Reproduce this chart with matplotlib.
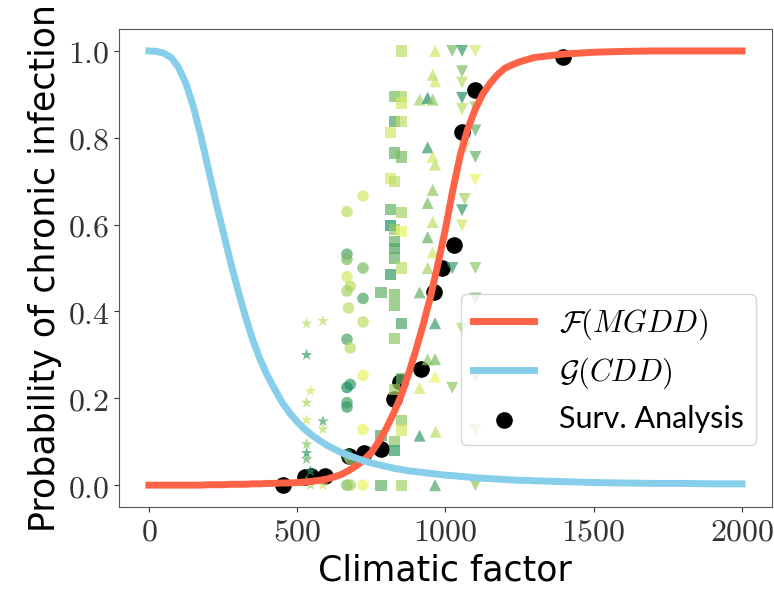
import numpy as np
import matplotlib
matplotlib.use("Agg")
import matplotlib.pyplot as plt

plt.rcParams['mathtext.fontset'] = 'cm'

# fitted curves, every 25 units (coarser in the flat tail)
curve_x = list(range(0, 1301, 25)) + [1400, 1500, 1600, 1700, 1800, 1900, 2000]
mgdd_y = [0.0, 0.0, 0.0, 0.0, 0.0, 0.0, 0.0, 0.0,
          0.001, 0.001, 0.001, 0.002, 0.002, 0.002, 0.003, 0.003, 0.004, 0.004,
          0.005, 0.005, 0.006, 0.007, 0.009, 0.011, 0.014, 0.019, 0.025, 0.034,
          0.045, 0.058, 0.075, 0.10, 0.13, 0.165, 0.205, 0.255, 0.31, 0.37,
          0.435, 0.51, 0.59, 0.68, 0.76, 0.82, 0.865, 0.90, 0.925, 0.945,
          0.96, 0.968, 0.975, 0.98, 0.985,
          0.993, 0.997, 0.999, 1.0, 1.0, 1.0, 1.0]
cdd_y = [1.0, 0.999, 0.995, 0.985, 0.962, 0.925, 0.872, 0.805, 0.73, 0.655,
         0.585, 0.515, 0.45, 0.39, 0.335, 0.29, 0.252, 0.22, 0.19, 0.166,
         0.146, 0.129, 0.115, 0.103, 0.092, 0.083, 0.075, 0.068, 0.062, 0.056,
         0.051, 0.047, 0.043, 0.039, 0.036, 0.033, 0.031, 0.029, 0.027, 0.025,
         0.023, 0.022, 0.020, 0.019, 0.017, 0.016, 0.015, 0.014, 0.013, 0.012,
         0.011, 0.011, 0.010,
         0.008, 0.006, 0.005, 0.004, 0.004, 0.003, 0.003]

# survival analysis estimates
surv_x = [452, 526, 548, 593, 676, 725, 783, 828, 846, 919, 961, 990, 1028, 1056, 1101, 1396]
surv_y = [0.0, 0.018, 0.022, 0.022, 0.066, 0.075, 0.083, 0.198, 0.237, 0.268, 0.444, 0.501,
          0.552, 0.813, 0.909, 0.987]

# individual observations, grouped by marker; c = colour level (0 yellow .. 1 green)
star_x = [532, 587, 532, 545, 532, 532, 587, 587, 532, 532, 532, 545, 532, 545, 587]
star_y = [0.372, 0.378, 0.30, 0.217, 0.19, 0.15, 0.147, 0.129, 0.094, 0.074, 0.06, 0.032, 0.01, 0.0, 0.0]
star_c = [0.2, 0.2, 0.8, 0.1, 0.3, 0.1, 0.7, 0.2, 0.4, 0.8, 0.6, 0.9, 0.5, 0.3, 0.1]

circ_x = [722, 668, 668, 668, 722, 668, 679, 668, 722, 673, 722, 668, 679, 722, 679, 668,
          668, 668, 722, 668, 679, 668, 679, 722]
circ_y = [0.666, 0.63, 0.532, 0.52, 0.50, 0.48, 0.458, 0.447, 0.43, 0.408, 0.376, 0.336, 0.316,
          0.253, 0.232, 0.225, 0.19, 0.18, 0.128, 0.07, 0.06, 0.0, 0.0, 0.0]
circ_c = [0.1, 0.2, 0.7, 0.5, 0.5, 0.1, 0.2, 0.3, 0.7, 0.2, 0.2, 0.7, 0.2, 0.0, 0.8, 0.9,
          0.7, 0.8, 0.0, 0.8, 0.3, 0.5, 0.3, 0.0]

sq_x = [853, 829, 853, 816, 829, 853, 853, 829, 853, 816, 829, 816, 853, 816, 829, 853,
        829, 829, 829, 853, 816, 783, 829, 829, 853, 829, 853, 829, 853, 853, 783, 829,
        829, 783, 853]
sq_y = [1.0, 0.837, 0.837, 0.813, 0.896, 0.896, 0.88, 0.765, 0.756, 0.707, 0.699, 0.634, 0.628,
        0.598, 0.589, 0.584, 0.562, 0.545, 0.523, 0.50, 0.485, 0.444, 0.439, 0.413, 0.373, 0.338,
        0.246, 0.22, 0.149, 0.127, 0.114, 0.10, 0.079, 0.0, 0.0]
sq_c = [0.2, 0.7, 0.2, 0.1, 0.5, 0.3, 0.1, 0.6, 0.5, 0.1, 0.2, 0.6, 0.3, 0.9, 0.4, 0.0,
        0.6, 0.7, 0.6, 0.2, 0.8, 0.6, 0.5, 0.5, 0.7, 0.4, 0.6, 0.3, 0.4, 0.1, 0.7, 0.4,
        0.8, 0.6, 0.3]

tu_x = [965, 913, 965, 967, 965, 913, 940, 965, 965, 913, 940, 957, 940, 957, 940, 957,
        965, 940, 957, 913, 940, 957, 965, 957]
tu_y = [1.0, 0.114, 0.0, 0.123, 0.25, 0.224, 0.29, 0.29, 0.373, 0.444, 0.50, 0.536, 0.571,
        0.606, 0.65, 0.68, 0.738, 0.778, 0.756, 0.888, 0.892, 0.888, 0.93, 0.945]
tu_c = [0.1, 0.8, 0.7, 0.2, 0.0, 0.1, 0.4, 0.5, 0.8, 0.6, 0.3, 0.1, 0.6, 0.2, 0.5, 0.4,
        0.2, 0.8, 0.1, 0.3, 0.9, 0.4, 0.1, 0.2]

td_x = [1023, 1056, 1101, 1056, 1056, 1056, 1056, 1101, 1101, 1065, 1101, 1101, 1065, 1056,
        1056, 1023, 1101, 1101, 1056, 1101, 1023, 1101, 1101]
td_y = [1.0, 1.0, 1.0, 0.953, 0.927, 0.892, 0.866, 0.87, 0.817, 0.778, 0.756, 0.703, 0.659,
        0.633, 0.598, 0.50, 0.50, 0.43, 0.36, 0.25, 0.224, 0.127, 0.0]
td_c = [0.5, 0.8, 0.1, 0.5, 0.2, 0.9, 0.2, 0.4, 0.6, 0.1, 0.6, 0.0, 0.3, 0.8, 0.1, 0.8,
        0.4, 0.5, 0.3, 0.3, 0.4, 0.3, 0.4]

xticks = [0, 500, 1000, 1500, 2000]
yticks = [0.0, 0.2, 0.4, 0.6, 0.8, 1.0]

fig = plt.figure(figsize=(7.74, 5.97), dpi=100)
ax = fig.add_axes([0.154, 0.151, 0.843, 0.800])

cmap = plt.get_cmap('summer_r')
groups = [(star_x, star_y, star_c, '*', 80), (circ_x, circ_y, circ_c, 'o', 70),
          (sq_x, sq_y, sq_c, 's', 65), (tu_x, tu_y, tu_c, '^', 75), (td_x, td_y, td_c, 'v', 75)]

surv = ax.scatter(surv_x, surv_y, s=120, color='black', zorder=2, label='Surv. Analysis')
for gx, gy, gc, mk, sz in groups:
    ax.scatter(gx, gy, c=gc, cmap=cmap, vmin=-0.1, vmax=1.05, marker=mk, s=sz,
               alpha=0.7, linewidths=0, zorder=3)

f_line, = ax.plot(curve_x, mgdd_y, color='tomato', lw=5, zorder=4, label=r'$\mathcal{F}(MGDD)$')
g_line, = ax.plot(curve_x, cdd_y, color='skyblue', lw=5, zorder=4, label=r'$\mathcal{G}(CDD)$')

ax.set_xlim(-100, 2100)
ax.set_ylim(-0.05, 1.05)
ax.set_xticks(xticks)
ax.set_xticklabels(['$%d$' % v for v in xticks])
ax.set_yticks(yticks)
ax.set_yticklabels(['$%.1f$' % v for v in yticks])
ax.tick_params(labelsize=23, colors='#333333')
for sp in ax.spines.values():
    sp.set_color('#555555')

ax.set_xlabel('Climatic factor', fontsize=25)
ax.set_ylabel('Probability of chronic infection', fontsize=25)

leg = ax.legend(handles=[f_line, g_line, surv], loc='lower right', bbox_to_anchor=(0.976, 0.13),
                borderaxespad=0, prop={'family': 'Lato', 'size': 22}, handletextpad=0.8,
                labelspacing=0.45)
leg.set_zorder(5)

fig.savefig('out.png', dpi=100)
